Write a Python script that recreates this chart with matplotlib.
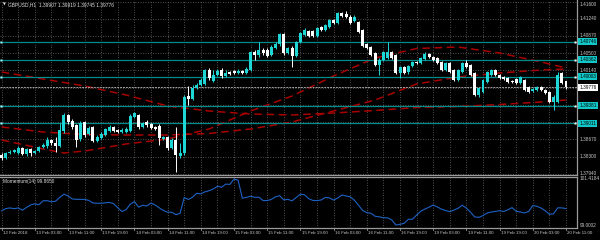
import matplotlib
matplotlib.use('Agg')
import matplotlib.pyplot as plt
import numpy as np

# ---------------- data (GBPUSD H1, 12 Feb 19:00 .. 20 Feb 11:00) ----------------
opens = [1.38338, 1.38274, 1.38380, 1.38402, 1.38380, 1.38487, 1.38359, 1.38466, 1.38380, 1.38423,
         1.38508, 1.38529, 1.38657, 1.38593, 1.38529, 1.38848, 1.39189, 1.39061, 1.38976, 1.38678,
         1.39040, 1.38785, 1.38934, 1.38636, 1.38700, 1.38763, 1.38848, 1.38934, 1.38870, 1.38827,
         1.38827, 1.38848, 1.39146, 1.39189, 1.38934, 1.39040, 1.38997, 1.38934, 1.38955, 1.38678,
         1.38721, 1.38487, 1.38657, 1.38317, 1.38380, 1.39593, 1.39529, 1.39763, 1.39827, 1.39849,
         1.40146, 1.39912, 1.40040, 1.40146, 1.40019, 1.40104, 1.40125, 1.40083, 1.40125, 1.40083,
         1.40146, 1.40529, 1.40466, 1.40572, 1.40572, 1.40466, 1.40615, 1.40700, 1.40912, 1.40508,
         1.40615, 1.40444, 1.40742, 1.40891, 1.40976, 1.40976, 1.40870, 1.41061, 1.40998, 1.41061,
         1.41210, 1.41147, 1.41359, 1.41338, 1.41274, 1.41189, 1.41168, 1.40998, 1.40700, 1.40636,
         1.40508, 1.40253, 1.40359, 1.40402, 1.40529, 1.40466, 1.40083, 1.40210, 1.40104, 1.40232,
         1.40317, 1.40295, 1.40380, 1.40487, 1.40423, 1.40402, 1.40317, 1.40146, 1.40295, 1.40146,
         1.39934, 1.40104, 1.40295, 1.40253, 1.40083, 1.39614, 1.39678, 1.39891, 1.40040, 1.40146,
         1.40040, 1.39997, 1.39976, 1.39912, 1.39955, 1.39870, 1.39934, 1.39785, 1.39700, 1.39721,
         1.39785, 1.39721, 1.39678, 1.39466, 1.39466, 1.40083, 1.39907]
highs = [1.38380, 1.38402, 1.38444, 1.38466, 1.38529, 1.38508, 1.38487, 1.38487, 1.38444, 1.38529,
         1.38593, 1.38721, 1.38678, 1.38721, 1.39019, 1.39231, 1.39210, 1.39104, 1.38997, 1.39061,
         1.39061, 1.38955, 1.38955, 1.38763, 1.38827, 1.38912, 1.38976, 1.38955, 1.38891, 1.38912,
         1.38934, 1.39210, 1.39253, 1.39210, 1.39040, 1.39082, 1.39019, 1.38955, 1.38997, 1.38742,
         1.38742, 1.38700, 1.38934, 1.38593, 1.39614, 1.39806, 1.39827, 1.39870, 1.39976, 1.40168,
         1.40189, 1.40146, 1.40168, 1.40189, 1.40146, 1.40125, 1.40146, 1.40168, 1.40146, 1.40210,
         1.40551, 1.40572, 1.40742, 1.40615, 1.40615, 1.40678, 1.40742, 1.40934, 1.40934, 1.40636,
         1.40657, 1.40764, 1.40955, 1.41040, 1.40998, 1.40998, 1.41061, 1.41083, 1.41125, 1.41232,
         1.41232, 1.41381, 1.41381, 1.41402, 1.41317, 1.41317, 1.41189, 1.41019, 1.40721, 1.40657,
         1.40529, 1.40402, 1.40551, 1.40742, 1.40551, 1.40487, 1.40232, 1.40232, 1.40253, 1.40338,
         1.40338, 1.40423, 1.40529, 1.40508, 1.40444, 1.40423, 1.40338, 1.40317, 1.40317, 1.40168,
         1.40168, 1.40317, 1.40359, 1.40274, 1.40104, 1.39785, 1.39955, 1.40125, 1.40168, 1.40168,
         1.40061, 1.40019, 1.39997, 1.39934, 1.39976, 1.40019, 1.39955, 1.39806, 1.39763, 1.39806,
         1.39806, 1.39742, 1.39700, 1.39614, 1.40104, 1.40104, 1.39919]
lows = [1.38231, 1.38253, 1.38359, 1.38380, 1.38359, 1.38338, 1.38317, 1.38317, 1.38359, 1.38402,
        1.38487, 1.38487, 1.38551, 1.38402, 1.38508, 1.38806, 1.38997, 1.38891, 1.38508, 1.38636,
        1.38721, 1.38763, 1.38614, 1.38614, 1.38678, 1.38742, 1.38827, 1.38827, 1.38806, 1.38806,
        1.38806, 1.38827, 1.39125, 1.38891, 1.38912, 1.38934, 1.38891, 1.38870, 1.38551, 1.38657,
        1.38444, 1.38466, 1.37976, 1.38274, 1.38338, 1.39402, 1.39508, 1.39742, 1.39806, 1.39827,
        1.39934, 1.39891, 1.40019, 1.39976, 1.39997, 1.40040, 1.40061, 1.40061, 1.40061, 1.40061,
        1.40125, 1.40359, 1.40423, 1.40466, 1.40423, 1.40444, 1.40593, 1.40657, 1.40466, 1.40487,
        1.40210, 1.40423, 1.40721, 1.40870, 1.40849, 1.40849, 1.40849, 1.40976, 1.40976, 1.41040,
        1.41125, 1.41125, 1.41274, 1.41253, 1.41125, 1.41168, 1.40934, 1.40636, 1.40593, 1.40444,
        1.40232, 1.40040, 1.40338, 1.40380, 1.40380, 1.40061, 1.39976, 1.40061, 1.40061, 1.40210,
        1.40274, 1.40274, 1.40359, 1.40402, 1.40338, 1.40274, 1.40125, 1.40125, 1.40083, 1.39912,
        1.39912, 1.40083, 1.40189, 1.40019, 1.39593, 1.39572, 1.39657, 1.39870, 1.40019, 1.40019,
        1.39955, 1.39934, 1.39870, 1.39870, 1.39849, 1.39849, 1.39700, 1.39657, 1.39678, 1.39700,
        1.39700, 1.39636, 1.39444, 1.39295, 1.39444, 1.39849, 1.39745]
closes = [1.38274, 1.38380, 1.38402, 1.38444, 1.38487, 1.38359, 1.38466, 1.38380, 1.38423, 1.38508,
          1.38551, 1.38657, 1.38593, 1.38529, 1.38870, 1.39189, 1.39040, 1.38934, 1.38657, 1.39019,
          1.38763, 1.38912, 1.38636, 1.38721, 1.38785, 1.38891, 1.38934, 1.38848, 1.38827, 1.38870,
          1.38891, 1.39167, 1.39231, 1.38934, 1.39019, 1.38976, 1.38912, 1.38891, 1.38700, 1.38721,
          1.38487, 1.38657, 1.38338, 1.38380, 1.39572, 1.39529, 1.39763, 1.39827, 1.39934, 1.40146,
          1.39976, 1.40040, 1.40125, 1.40019, 1.40083, 1.40061, 1.40083, 1.40125, 1.40083, 1.40168,
          1.40529, 1.40466, 1.40572, 1.40508, 1.40444, 1.40636, 1.40700, 1.40912, 1.40508, 1.40615,
          1.40444, 1.40742, 1.40934, 1.40998, 1.40870, 1.40870, 1.41040, 1.40998, 1.41104, 1.41210,
          1.41147, 1.41359, 1.41296, 1.41274, 1.41147, 1.41274, 1.40955, 1.40657, 1.40615, 1.40466,
          1.40253, 1.40359, 1.40529, 1.40529, 1.40402, 1.40083, 1.40210, 1.40083, 1.40232, 1.40317,
          1.40295, 1.40402, 1.40487, 1.40423, 1.40359, 1.40295, 1.40146, 1.40295, 1.40104, 1.39934,
          1.40146, 1.40295, 1.40210, 1.40040, 1.39614, 1.39763, 1.39934, 1.40104, 1.40146, 1.40040,
          1.39976, 1.39955, 1.39891, 1.39891, 1.39870, 1.39997, 1.39721, 1.39678, 1.39742, 1.39785,
          1.39721, 1.39657, 1.39466, 1.39572, 1.40040, 1.39870, 1.39776]

momentum = [99.747, 99.862, 99.899, 99.857, 99.899, 99.778, 99.925, 100.057, 100.115, 100.067,
            100.272, 100.278, 100.220, 100.251, 100.451, 100.619, 100.530, 100.372, 100.351, 100.351,
            100.346, 100.293, 100.157, 100.141, 100.146, 100.167, 100.188, 100.120, 99.904, 99.710,
            99.810, 100.094, 100.230, 99.941, 100.041, 99.999, 100.157, 100.052, 99.899, 99.757,
            99.673, 99.673, 99.542, 99.615, 100.446, 100.341, 100.462, 100.667, 100.635, 100.746,
            100.803, 100.893, 101.040, 100.982, 101.150, 101.135, 101.4184, 101.350, 100.409, 100.451,
            100.514, 100.456, 100.462, 100.288, 100.283, 100.346, 100.483, 100.541, 100.320, 100.346,
            100.272, 100.451, 100.625, 100.583, 100.383, 100.293, 100.283, 100.314, 100.451, 100.425,
            100.309, 100.420, 100.577, 100.525, 100.483, 100.304, 100.041, 99.762, 99.647, 99.621,
            99.458, 99.431, 99.379, 99.379, 99.268, 99.0002, 99.037, 99.084, 99.300, 99.305,
            99.521, 99.726, 99.836, 99.936, 100.052, 99.946, 99.831, 99.757, 99.705, 99.784,
            99.883, 100.041, 99.889, 99.668, 99.421, 99.405, 99.494, 99.631, 99.684, 99.715,
            99.752, 99.710, 99.799, 99.915, 99.720, 99.684, 99.631, 99.715, 100.020, 99.983,
            99.889, 99.747, 99.563, 99.589, 99.904, 99.900, 99.865]

# dashed red curves (bar index, price)
curve_idx = [0, 10, 20, 30, 40, 50, 60, 70, 80, 90, 100, 110, 120, 130, 136]
curve_a = [1.40104, 1.39955, 1.39806, 1.39614, 1.39380, 1.39274, 1.39210, 1.39189, 1.39231,
           1.39285, 1.39348, 1.39370, 1.39412, 1.39466, 1.39508]
curve_b = [1.38934, 1.38827, 1.38774, 1.38763, 1.38763, 1.38795, 1.38891, 1.39040, 1.39274,
           1.39508, 1.39849, 1.39997, 1.40083, 1.40146, 1.40168]
curve_c_idx = [0, 10, 15, 20, 30, 40, 50, 60, 70, 80, 90, 100, 110, 120, 130, 136]
curve_c = [1.38657, 1.38466, 1.38380, 1.38423, 1.38572, 1.38678, 1.38891, 1.39274, 1.39593,
           1.40019, 1.40402, 1.40604, 1.40636, 1.40508, 1.40317, 1.40189]

level_prices = [1.40746, 1.40362, 1.40003, 1.39381, 1.39011]
grid_prices = [1.41600, 1.41240, 1.40870, 1.40500, 1.40140, 1.39770, 1.39400, 1.39030,
               1.38670, 1.38300, 1.37940]
price_labels = [1.41600, 1.41240, 1.40870, 1.40500, 1.40140, 1.38670, 1.38300, 1.37940]
time_labels = ['12 Feb 2018', '13 Feb 03:00', '13 Feb 11:00', '13 Feb 19:00', '14 Feb 03:00',
               '14 Feb 11:00', '14 Feb 19:00', '15 Feb 03:00', '15 Feb 11:00', '15 Feb 19:00',
               '16 Feb 03:00', '16 Feb 11:00', '16 Feb 19:00', '19 Feb 03:00', '19 Feb 11:00',
               '19 Feb 19:00', '20 Feb 03:00', '20 Feb 11:00']
symbol = 'GBPUSD,H1'

# ---------------- drawing ----------------
FONT = 'Liberation Sans'
TXT = '#c8c8c8'
GRID = '#6a6a6a'
SPINE = '#9a9a9a'
UPC = '#1ed6d6'

fig = plt.figure(figsize=(6, 2.4), dpi=100, facecolor='black')
R = 577 / 600
ax = fig.add_axes([0, 1 - 175 / 240, R, 175 / 240], facecolor='black')
axm = fig.add_axes([0, 1 - 228 / 240, R, 51 / 240], facecolor='black')

o = np.array(opens); h = np.array(highs); l = np.array(lows); c = np.array(closes)
n = len(c)
x = np.arange(n)
xlim = (-0.39, 138.65)
for a in (ax, axm):
    a.set_xlim(*xlim)
    a.tick_params(left=False, bottom=False, labelleft=False, labelbottom=False,
                  right=False, labelright=False)
    a.spines['left'].set_visible(False)
    for s in ('right', 'bottom', 'top'):
        a.spines[s].set_color(SPINE)
        a.spines[s].set_linewidth(0.9)
ax.spines['top'].set_visible(False)
ax.set_ylim(1.37912, 1.41636)
axm.set_ylim(98.8425, 101.5235)

# grid
for gp in grid_prices:
    ax.axhline(gp, color=GRID, lw=0.6, ls=(0, (1, 2)), zorder=0)
for i in range(0, n, 4):
    ax.axvline(i, color=GRID, lw=0.6, ls=(0, (1, 2)), zorder=0)
    axm.axvline(i, color=GRID, lw=0.6, ls=(0, (1, 2)), zorder=0)

# red dashed curves
for cx, cy in ((curve_idx, curve_a), (curve_idx, curve_b), (curve_c_idx, curve_c)):
    ax.plot(cx, cy, color='#a80000', lw=1.1, ls=(0, (5, 3)), zorder=1)

# cyan level lines
for lp in level_prices:
    ax.axhline(lp, color='#008b8b', lw=0.9, zorder=2)
ax.plot(np.full(len(level_prices), xlim[0] + 0.35), level_prices, 's', ms=2.0,
        color='#a8ffff', mec='none', clip_on=False, zorder=5)
ax.plot(np.full(len(level_prices), xlim[1] - 0.5), level_prices, 's', ms=1.6,
        color='white', mec='none', clip_on=False, zorder=5)

# bid line
ax.axhline(c[-1], color='#a0a0a0', lw=0.7, ls=(0, (2, 1)), zorder=2)

# candles
up = c >= o
cols = np.where(up, UPC, '#ffffff')
ax.vlines(x, l, h, colors=cols, lw=0.7, zorder=3)
body = np.maximum(np.abs(c - o), 0.00004)
ax.bar(x, body, bottom=np.minimum(o, c), width=0.72, color=cols, linewidth=0, zorder=4)

# price labels (right)
ty = ax.get_yaxis_transform()
top = ax.get_ylim()[1]
for p in price_labels:
    ax.text(1.004, min(p, top - 0.0009), f'{p:.5f}', transform=ty, color=TXT,
            fontsize=3.4, family=FONT, va='center', ha='left', clip_on=False)
for lp in level_prices:
    ax.text(1.004, lp, f'{lp:.5f}', transform=ty, color='black', fontsize=3.4, family=FONT,
            va='center', ha='left', clip_on=False,
            bbox=dict(facecolor='#10c8c8', edgecolor='none', pad=0.7))
ax.text(1.004, c[-1], f'{c[-1]:.5f}', transform=ty, color='black', fontsize=3.4, family=FONT,
        va='center', ha='left', clip_on=False,
        bbox=dict(facecolor='white', edgecolor='none', pad=0.7))

# header
fig.text(2.5 / 600, 1 - 5 / 240, '\u25bc', color='#e0e0e0', fontsize=2.6,
         family='DejaVu Sans', va='center', ha='left')
fig.text(8 / 600, 1 - 5 / 240,
         f'{symbol}  {opens[-1]:.5f} {highs[-1]:.5f} {lows[-1]:.5f} {closes[-1]:.5f}',
         color='#e0e0e0', fontsize=3.5, family=FONT, va='center', ha='left')

# momentum
axm.plot(x, momentum, color='#1d62c4', lw=0.8, zorder=3)
tm = axm.get_yaxis_transform()
mx, mn = max(momentum), min(momentum)
axm.text(1.004, mx, f'{mx:.4f}', transform=tm, color=TXT, fontsize=3.4, family=FONT,
         va='center', ha='left', clip_on=False)
axm.text(1.004, mn, f'{mn:.4f}', transform=tm, color=TXT, fontsize=3.4, family=FONT,
         va='center', ha='left', clip_on=False)
fig.text(3 / 600, 1 - 181 / 240, f'Momentum(14) {momentum[-1]:.4f}', color='#e0e0e0',
         fontsize=3.4, family=FONT, va='center', ha='left')

# time labels
tx = axm.get_xaxis_transform()
for k, lab in enumerate(time_labels):
    xi = k * 8
    axm.text(xi + 0.3, -0.1, lab, transform=tx, color=TXT, fontsize=3.2, family=FONT,
             va='center', ha='left', clip_on=False)
    axm.plot([xi, xi], [0, -0.04], transform=tx, color=SPINE, lw=0.6, clip_on=False)

fig.savefig('out.png', dpi=100, facecolor='black')
